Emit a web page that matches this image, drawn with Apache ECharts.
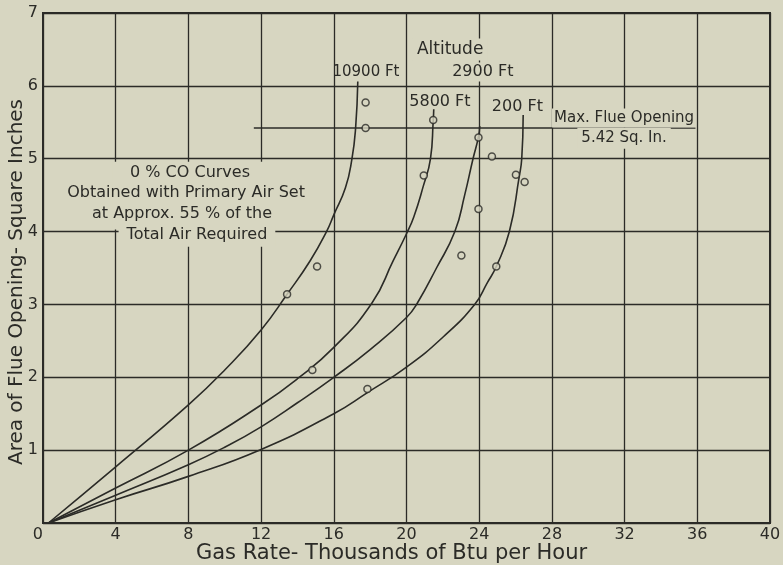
<!DOCTYPE html>
<html>
<head>
<meta charset="utf-8">
<script src="https://cdn.jsdelivr.net/npm/echarts/dist/echarts.min.js"></script>
<style>
html,body{margin:0;padding:0;background:#d7d6c1;}
#c{width:783px;height:565px;}
</style>
</head>
<body>
<div id="c"></div>
<script>
// ---- data ----
const xTickValues = [0, 4, 8, 12, 16, 20, 24, 28, 32, 36, 40];
const yTickValues = [0, 1, 2, 3, 4, 5, 6, 7];
const curveNames = ['10900 Ft', '5800 Ft', '2900 Ft', '200 Ft'];
const curve10900 = [[0.3,0],[4,0.77],[8,1.62],[10,2.1],[12,2.65],[13.43,3.14],[14.7,3.6],[15.6,4.0],[16.0,4.23],[16.64,4.6],[17.0,5.0],[17.2,5.42],[17.32,6.06]];
const curve5800 = [[0.3,0],[4,0.48],[8,1.0],[12,1.62],[14,1.98],[16,2.41],[18.1,3.02],[19.27,3.6],[20.0,3.97],[20.4,4.2],[20.92,4.62],[21.32,5.0],[21.47,5.52],[21.5,5.68]];
const curve2900 = [[0.3,0],[4,0.38],[8,0.8],[10,1.04],[12,1.32],[14,1.65],[16,2.0],[18,2.38],[20,2.82],[20.6,3.02],[21.65,3.5],[22.66,4.0],[23.2,4.5],[23.66,5.0],[23.96,5.3],[24.03,5.45]];
const curve200 = [[0.3,0],[4,0.32],[8,0.64],[12,1.01],[16,1.5],[17.85,1.79],[20,2.14],[22,2.55],[23.75,3.0],[24.45,3.3],[24.94,3.52],[25.66,4.0],[26.2,4.75],[26.34,5.0],[26.42,5.6]];
const testPoints = [[13.43,3.14],[15.08,3.52],[17.75,5.77],[17.75,5.42],[14.82,2.1],[17.85,1.84],[20.95,4.77],[21.47,5.53],[23.96,5.29],[24.7,5.03],[23.96,4.31],[23.02,3.67],[24.94,3.52],[26.02,4.78],[26.5,4.68]];
const maxFlueOpening = 5.42;
const maxFlueSpan = [11.6, 35.9];

// ---- style ----
const PAPER = '#d7d6c1';
const INK = '#2b2b27';
const FONT = '"DejaVu Sans", "Liberation Sans", sans-serif';

const curves = [curve10900, curve5800, curve2900, curve200];

const series = curves.map((d, i) => ({
  name: curveNames[i],
  type: 'line',
  data: d,
  smooth: 0.5,
  showSymbol: false,
  symbol: 'none',
  lineStyle: { color: INK, width: 1.6 },
  z: 3,
  silent: true
}));
series[0].markLine = {
  symbol: 'none',
  silent: true,
  label: { show: false },
  lineStyle: { type: 'solid', color: INK, width: 1.6 },
  data: [[{ coord: [maxFlueSpan[0], maxFlueOpening] }, { coord: [maxFlueSpan[1], maxFlueOpening] }]]
};
series.push({
  type: 'scatter',
  data: testPoints,
  symbol: 'circle',
  symbolSize: 7,
  itemStyle: { color: PAPER, borderColor: INK, borderWidth: 1.5 },
  z: 5,
  silent: true
});

const option = {
  animation: false,
  backgroundColor: PAPER,
  grid: {
    left: 43, right: 13, top: 13, bottom: 42,
    containLabel: false,
    outerBoundsMode: 'none',
    show: true, borderColor: INK, borderWidth: 2, backgroundColor: 'transparent'
  },
  xAxis: {
    type: 'value',
    min: xTickValues[0], max: xTickValues[xTickValues.length - 1],
    interval: xTickValues[1] - xTickValues[0],
    axisLine: { show: true, lineStyle: { color: INK, width: 2 } },
    axisTick: { show: false },
    splitLine: { show: true, lineStyle: { color: INK, width: 1.3 } },
    axisLabel: { color: INK, fontSize: 16, fontFamily: FONT, margin: 4, alignMinLabel: 'right' },
    name: 'Gas Rate- Thousands of Btu per Hour',
    nameLocation: 'middle',
    nameGap: 20,
    nameMoveOverlap: false,
    nameTextStyle: { color: INK, fontSize: 21, fontFamily: FONT, padding: [0, 30, 0, 0] }
  },
  yAxis: {
    type: 'value',
    min: yTickValues[0], max: yTickValues[yTickValues.length - 1],
    interval: yTickValues[1] - yTickValues[0],
    axisLine: { show: true, lineStyle: { color: INK, width: 2 } },
    axisTick: { show: false },
    splitLine: { show: true, lineStyle: { color: INK, width: 1.3 } },
    axisLabel: { color: INK, fontSize: 16, fontFamily: FONT, margin: 5, showMinLabel: false },
    name: 'Area of Flue Opening- Square Inches',
    nameLocation: 'middle',
    nameGap: 16,
    nameRotate: 90,
    nameMoveOverlap: false,
    nameTextStyle: { color: INK, fontSize: 20, fontFamily: FONT, padding: [0, 28, 0, 0] }
  },
  series: series
};

const chart = echarts.init(document.getElementById('c'));
chart.setOption(option);

// ---- annotations (placed through the chart's own coordinate system) ----
const P = (x, y) => chart.convertToPixel({ gridIndex: 0 }, [x, y]);
const notes = [
  { text: 'Altitude', at: [22.4, 6.5], size: 17, bg: true, pad: [3, 4, 2, 4] },
  { text: '2900 Ft', at: [24.2, 6.19], size: 16, bg: true, pad: [2, 4, 1, 4] },
  { text: '10900 Ft', at: [17.77, 6.19], size: 15, bg: false },
  { text: '5800 Ft', at: [21.84, 5.78], size: 16, bg: false },
  { text: '200 Ft', at: [26.1, 5.71], size: 16, bg: false },
  { text: 'Max. Flue Opening', at: [31.97, 5.56], size: 15, bg: true, pad: [4, 2, 0, 2] },
  { text: '5.42 Sq. In.', at: [31.97, 5.28], size: 15, bg: true, pad: [2, 4, 4, 4] },
  { text: '0 % CO Curves', at: [8.09, 4.80], size: 16, bg: false },
  { text: 'Obtained with Primary Air Set', at: [7.87, 4.53], size: 16, bg: false },
  { text: 'at Approx. 55 % of the', at: [7.65, 4.24], size: 16, bg: false },
  { text: 'Total Air Required', at: [8.47, 3.95], size: 16, bg: true, pad: [2, 8, 5, 8] }
];
const p1 = P(3.8, 4.96), p2 = P(12.6, 4.03);
const graphics = [{
  type: 'rect', z: 90, silent: true,
  shape: { x: p1[0], y: p1[1], width: p2[0] - p1[0], height: p2[1] - p1[1] },
  style: { fill: PAPER }
}];
notes.forEach(n => {
  const p = P(n.at[0], n.at[1]);
  graphics.push({
    type: 'text', z: 100, silent: true,
    x: p[0], y: p[1],
    style: {
      text: n.text, fill: INK, fontSize: n.size, fontFamily: FONT,
      align: 'center', verticalAlign: 'middle',
      backgroundColor: n.bg ? PAPER : 'transparent',
      padding: n.bg ? n.pad : 0
    }
  });
});
chart.setOption({ graphic: graphics });
</script>
</body>
</html>
